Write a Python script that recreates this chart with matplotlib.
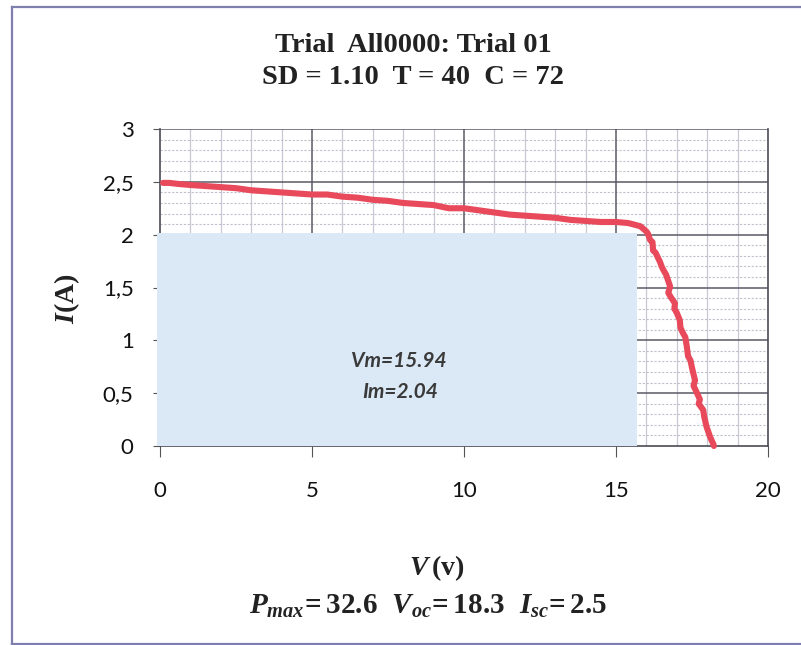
import matplotlib
matplotlib.use("Agg")
import matplotlib.pyplot as plt
from matplotlib.patches import Rectangle
from matplotlib.lines import Line2D
import numpy as np

# ---- data ----
voltage = [0.1, 0.3, 0.6, 1.0, 1.5, 2.0, 2.5, 3.0, 3.5, 4.0, 4.5, 5.0, 5.5, 6.0, 6.5,
           7.0, 7.5, 8.0, 8.5, 9.0, 9.5, 10.0, 10.5, 11.0, 11.5, 12.0, 12.5, 13.0,
           13.5, 14.0, 14.5, 15.0, 15.4, 15.8, 16.0, 16.05, 16.12, 16.2, 16.22, 16.3,
           16.45, 16.5, 16.55, 16.65, 16.78, 16.72, 16.8, 16.94, 16.92, 17.0, 17.1,
           17.12, 17.2, 17.28, 17.33, 17.37, 17.45, 17.5, 17.6, 17.55, 17.65, 17.76,
           17.72, 17.87, 17.9, 17.98, 18.03, 18.09, 18.15, 18.2, 18.22]
current = [2.49, 2.49, 2.48, 2.47, 2.46, 2.45, 2.44, 2.42, 2.41, 2.40, 2.39, 2.38, 2.38,
           2.36, 2.35, 2.33, 2.32, 2.30, 2.29, 2.28, 2.25, 2.25, 2.23, 2.21, 2.19, 2.18,
           2.17, 2.16, 2.14, 2.13, 2.12, 2.12, 2.11, 2.08, 2.03, 2.01, 1.95, 1.93, 1.85,
           1.83, 1.74, 1.70, 1.67, 1.62, 1.51, 1.45, 1.41, 1.35, 1.30, 1.26, 1.19, 1.12,
           1.07, 1.03, 0.94, 0.85, 0.81, 0.74, 0.62, 0.57, 0.51, 0.44, 0.40, 0.34, 0.28,
           0.18, 0.14, 0.09, 0.05, 0.02, 0.0]

vm, im = 15.94, 2.04            # annotated maximum-power point
rect_v, rect_i = 15.7, 2.02     # extent of the shaded box as drawn
pmax, voc, isc = 32.6, 18.3, 2.5
title1 = "Trial  All0000: Trial 01"
title2 = "SD = 1.10  T = 40  C = 72"
x_ticks = [0, 5, 10, 15, 20]
y_ticks = [0, 0.5, 1, 1.5, 2, 2.5, 3]
y_tick_labels = ["0", "0,5", "1", "1,5", "2", "2,5", "3"]

plt.rcParams.update({
    "mathtext.fontset": "custom",
    "mathtext.rm": "Liberation Serif:bold",
    "mathtext.it": "Liberation Serif:italic:bold",
    "mathtext.bf": "Liberation Serif:bold",
})

W, H = 801, 645
fig = plt.figure(figsize=(W / 100, H / 100), dpi=100)
fig.patch.set_facecolor("white")

ax = fig.add_axes([160 / W, 1 - 446 / H, (768 - 160) / W, (446 - 129) / H])
ax.set_xlim(0, 20)
ax.set_ylim(0, 3)

# grid
for v in np.arange(1, 20):
    if v % 5 == 0:
        continue
    ax.axvline(v, color="#c8c8d6", lw=0.9, zorder=1)
for v in [5, 10, 15]:
    ax.axvline(v, color="#5a5a66", lw=1.1, zorder=1.2)
for k in range(1, 30):
    y = k / 10
    if k % 5 == 0:
        continue
    ax.axhline(y, color="#c0c0cc", lw=0.8, ls=(0, (2, 1.5)), zorder=1)
for y in [0.5, 1, 1.5, 2, 2.5, 3]:
    ax.axhline(y, color="#5a5a66", lw=1.1, zorder=1.2)

ax.spines["top"].set_visible(False)
for s in ["left", "right", "bottom"]:
    ax.spines[s].set_color("#4a4a55")
    ax.spines[s].set_linewidth(1.2)
    ax.spines[s].set_zorder(1.3)

# shaded box
ax.add_patch(Rectangle((-0.1, 0), rect_v + 0.1, rect_i, facecolor="#dbe8f5",
                       edgecolor="none", zorder=2, clip_on=False))

# curve
ax.plot(voltage, current, color="#e84a5c", lw=4.4, solid_joinstyle="round",
        solid_capstyle="round", zorder=3, clip_on=False)

ax.text(7.85, 0.80, f"Vm={vm:.2f}", ha="center", va="center", fontsize=15,
        family="Lato", style="italic", weight="bold", color="#3a3a3a", zorder=4)
ax.text(7.9, 0.51, f"Im={im:.2f}", ha="center", va="center", fontsize=15,
        family="Lato", style="italic", weight="bold", color="#3a3a3a", zorder=4)

ax.set_xticks(x_ticks)
ax.set_xticklabels([str(t) for t in x_ticks])
ax.set_yticks(y_ticks)
ax.set_yticklabels(y_tick_labels)
ax.tick_params(axis="both", direction="out", color="#555555", labelsize=16,
               labelcolor="#111111")
ax.tick_params(axis="y", length=5, pad=14)
ax.tick_params(axis="x", length=8, pad=17)
for lab in ax.get_xticklabels() + ax.get_yticklabels():
    lab.set_family("Lato")

# titles and labels
serif = "Liberation Serif"
fig.text(413 / W, 1 - 45 / H, title1, ha="center", va="center", fontsize=20.5,
         family=serif, weight="bold", color="#222222")
fig.text(413 / W, 1 - 78 / H, title2, ha="center", va="center", fontsize=20.5,
         family=serif, weight="bold", color="#222222")
fig.text(437 / W, 1 - 568 / H, r"$V\,$(v)", ha="center", va="center",
         fontsize=20, family=serif, weight="bold", color="#222222")
fig.text(67 / W, 1 - 299 / H, r"$I$(A)", ha="center", va="center", rotation=90,
         fontsize=20, family=serif, weight="bold", color="#222222")
fig.text(428 / W, 1 - 606 / H,
         rf"$P_{{max}}\!= {pmax}\ \ V_{{oc}}\!= {voc}\ \ I_{{sc}}\!= {isc}$",
         ha="center", va="center", fontsize=21, color="#222222")

# outer frame
frame_col = "#7f7fae"
fig.add_artist(Line2D([12 / W, 12 / W], [0, 1 - 7 / H], transform=fig.transFigure,
                      color=frame_col, lw=1.6))
fig.add_artist(Line2D([12 / W, 1], [1 - 7 / H, 1 - 7 / H], transform=fig.transFigure,
                      color=frame_col, lw=1.6))
fig.add_artist(Line2D([12 / W, 1], [1 / H, 1 / H], transform=fig.transFigure,
                      color=frame_col, lw=1.6))

fig.savefig("out.png", dpi=100)
